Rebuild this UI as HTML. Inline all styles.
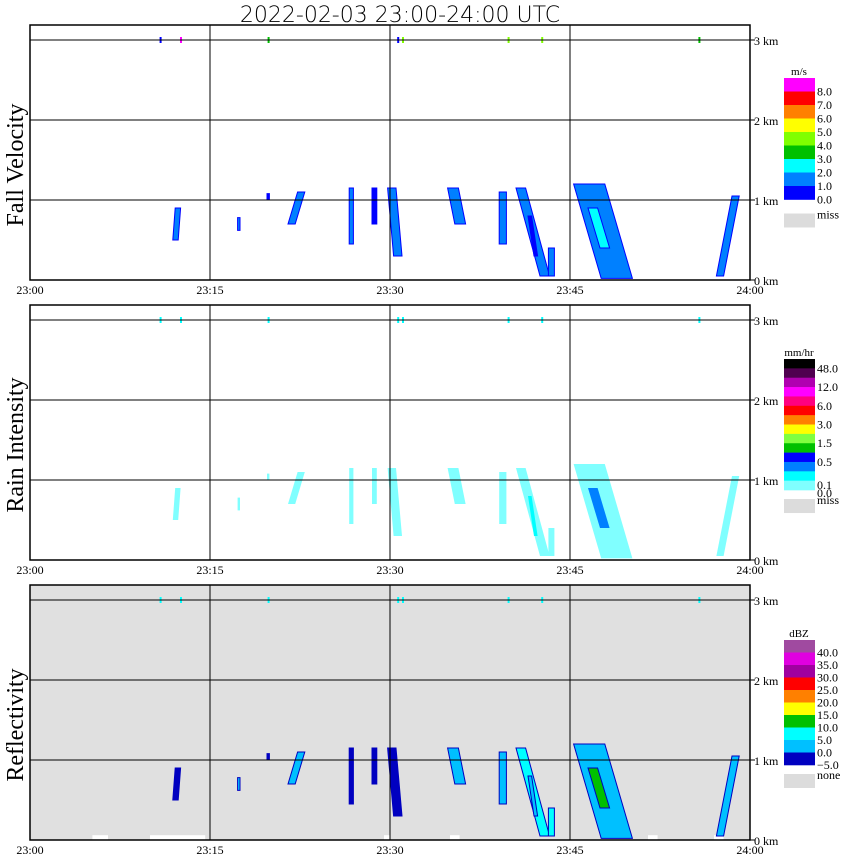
<!DOCTYPE html>
<html><head><meta charset="utf-8"><style>
html,body{margin:0;padding:0;background:#fff;}
svg{display:block;}
text{font-family:"Liberation Serif",serif;fill:#000;}
</style></head><body>
<svg id="chart" width="850" height="868" xmlns="http://www.w3.org/2000/svg">
<text x="400" y="22" text-anchor="middle" style="font-family:'DejaVu Sans','Liberation Sans',sans-serif;font-size:22px;font-weight:300">2022-02-03  23:00-24:00 UTC</text>
</svg>
<script>
// Echo streaks (minutes after 23:00, heights in km)
const tTop  = [12.1, 17.3, 19.75, 22.3, 26.6, 28.5, 29.8, 34.8, 39.1, 40.5, 43.2, 45.3, 58.5, 46.5, 41.5];
const tBot  = [11.9, 17.3, 19.75, 21.5, 26.6, 28.5, 30.3, 35.4, 39.1, 42.5, 43.2, 47.6, 57.2, 47.5, 42.0];
const hTop  = [0.9, 0.78, 1.08, 1.1, 1.15, 1.15, 1.15, 1.15, 1.1, 1.15, 0.4, 1.2, 1.05, 0.9, 0.8];
const hBot  = [0.5, 0.62, 1.0, 0.7, 0.45, 0.7, 0.3, 0.7, 0.45, 0.05, 0.05, 0.02, 0.05, 0.4, 0.3];
const wMin  = [0.45, 0.2, 0.2, 0.6, 0.35, 0.4, 0.7, 0.9, 0.6, 0.8, 0.5, 2.6, 0.6, 0.8, 0.3];
const velVals  = [1.5, 1.5, 0.5, 1.5, 1.5, 0.5, 1.5, 1.0, 1.5, 1.5, 1.5, 1.5, 1.5, 2.5, 0.5];
const rainVals = [0.05, 0.05, 0.05, 0.05, 0.05, 0.05, 0.05, 0.05, 0.05, 0.05, 0.05, 0.05, 0.05, 0.3, 0.2];
const dbzVals  = [-2, 2, -2, 2, -2, -2, -2, 2, 2, 7, 7, 2, 2, 12, 2];
// Tiny echoes near 3 km
const dotTimes = [10.8, 12.5, 19.8, 30.6, 31.0, 39.8, 42.6, 55.7];
const dotVel   = [0.5, 8.5, 3.5, 0.5, 4.5, 4.5, 4.5, 3.5];
// White gaps (missing data) at the bottom of reflectivity panel
const gapStart = [5.2, 10.0, 29.5, 35.0, 51.5, 57.0];
const gapEnd   = [6.5, 14.6, 30.0, 35.8, 52.3, 57.8];
const timeTicks = ["23:00","23:15","23:30","23:45","24:00"];
const kmTicks = [0,1,2,3];

const velBounds=[0,1,2,3,4,5,6,7,8];
const velCols=["#0000ff","#0080ff","#00ffff","#00c000","#80ff00","#ffff00","#ff8000","#ff0000","#ff00ff"];
const rainBounds=[0,0.1,0.3,0.5,1,1.5,2,3,4,6,9,12,24,48];
const rainCols=["#80ffff","#00ffff","#0080ff","#0000ff","#00c000","#80ff40","#ffff00","#ff8000","#ff0000","#ff0080","#ff00ff","#b000b0","#500050","#000000"];
const dbzBounds=[-5,0,5,10,15,20,25,30,35,40];
const dbzCols=["#0000c0","#00c0ff","#00ffff","#00c000","#ffff00","#ff8000","#ff0000","#a000a0","#e000e0","#a04aa0"];

const svg=document.getElementById('chart');
const NS="http://www.w3.org/2000/svg";
const X0=30,X1=750;
function xs(m){return X0+m*(X1-X0)/60;}
function ys(top,km){return top+280-km*80;}
function pick(v,b,c){let i=0;for(let k=0;k<b.length;k++){if(v>=b[k])i=k;}return c[i];}
function mk(tag,attrs,parent){const e=document.createElementNS(NS,tag);for(const k in attrs)e.setAttribute(k,attrs[k]);(parent||svg).appendChild(e);return e;}

const panels=[
 {name:"fall-velocity",label:"Fall Velocity",vals:velVals,b:velBounds,c:velCols,bg:"#ffffff",unit:"m/s",legTop:78,rows:9,rowH:13.5,labels:["8.0","7.0","6.0","5.0","4.0","3.0","2.0","1.0","0.0"],miss:"miss"},
 {name:"rain-intensity",label:"Rain Intensity",vals:rainVals,b:rainBounds,c:rainCols,bg:"#ffffff",unit:"mm/hr",legTop:359,rows:14,rowH:9.36,labels:["48.0","12.0","6.0","3.0","1.5","0.5","0.1","0.0"],miss:"miss"},
 {name:"reflectivity",label:"Reflectivity",vals:dbzVals,b:dbzBounds,c:dbzCols,bg:"#e0e0e0",unit:"dBZ",legTop:640,rows:10,rowH:12.5,labels:["40.0","35.0","30.0","25.0","20.0","15.0","10.0","5.0","0.0","\u22125.0"],miss:"none"}
];

panels.forEach((p,pi)=>{
  const top=pi*280;
  const g=mk('g',{});
  
  
  const bg=mk('rect',{x:X0,y:top+25,width:X1-X0,height:255,fill:p.bg},g);
  
  
  if(pi===2){
    gapStart.forEach((s,i)=>{
      const r=mk('rect',{x:xs(s),y:ys(top,0.06),width:xs(gapEnd[i])-xs(s),height:5,fill:"#fff"},g);
      
      
    });
  }
  tTop.forEach((t,i)=>{
    const w=wMin[i];
    const pts=[[xs(t),ys(top,hTop[i])],[xs(t+w),ys(top,hTop[i])],[xs(tBot[i]+w),ys(top,hBot[i])],[xs(tBot[i]),ys(top,hBot[i])]];
    const col=pick(p.vals[i],p.b,p.c);
    const poly=mk('polygon',{points:pts.map(q=>q.join(',')).join(' '),fill:col,stroke:pi===0?"#0000ff":(pi===2?"#0000c0":"none"),"stroke-width":pi===1?0:1},g);
    
    
  });
  dotTimes.forEach((t,i)=>{
    const col=pi===0?pick(dotVel[i],p.b,p.c):"#00ffff";
    const r=mk('rect',{x:xs(t),y:top+37,width:2,height:6,fill:col},g);
    
    
  });
  [15,30,45].forEach(m=>{mk('line',{x1:xs(m),x2:xs(m),y1:top+25,y2:top+280,stroke:"#000","stroke-width":1},g);});
  kmTicks.slice(1).forEach(k=>{mk('line',{x1:X0,x2:X1+5,y1:ys(top,k),y2:ys(top,k),stroke:"#000","stroke-width":1},g);});
  const fr=mk('rect',{x:X0,y:top+25,width:X1-X0,height:255,fill:"none",stroke:"#000","stroke-width":1.5},g);
  
  
  mk('line',{x1:X1,x2:X1+5,y1:ys(top,0),y2:ys(top,0),stroke:"#000"},g);
  kmTicks.forEach(k=>{
    const t=mk('text',{x:X1+4,y:ys(top,k)+5,"font-size":"12"},g);
    t.textContent=k+" km";
    
    
  });
  timeTicks.forEach((s,i)=>{
    const t=mk('text',{x:xs(i*15),y:top+294,"font-size":"12","text-anchor":"middle"},g);
    t.textContent=s;
    
    
  });
  const yl=mk('text',{x:0,y:0,"font-size":"24","text-anchor":"middle",transform:`translate(23,${top+165}) rotate(-90)`},g);
  yl.textContent=p.label;
  
  
  const lg=mk('g',{},g);
  
  
  const u=mk('text',{x:799,y:p.legTop-3,"font-size":"11","text-anchor":"middle"},lg);
  u.textContent=p.unit;
  for(let r=0;r<p.rows;r++){
    const c=p.c[p.rows-1-r];
    const sw=mk('rect',{x:784,y:p.legTop+r*p.rowH,width:31,height:p.rowH+0.3,fill:c},lg);
    
    
  }
  const legBot=p.legTop+p.rows*p.rowH;
  const step=(pi===1)?2*p.rowH:p.rowH;
  p.labels.forEach((s,i)=>{
    let y=p.legTop+(pi===1?(i+0.5)*step:(i+1)*p.rowH)+4;
    if(pi===1&&i===7)y=legBot+7;
    if(pi===1&&i===6)y=legBot-1;
    const t=mk('text',{x:817,y:y,"font-size":"12"},lg);
    t.textContent=s;
    
    
  });
  const ms=mk('rect',{x:784,y:legBot+(pi===0?14:9),width:31,height:14,fill:"#dcdcdc"},lg);
  
  
  const mt=mk('text',{x:817,y:legBot+(pi===0?19:14),"font-size":"12"},lg);
  mt.textContent=p.miss;
});
</script>
</body></html>
